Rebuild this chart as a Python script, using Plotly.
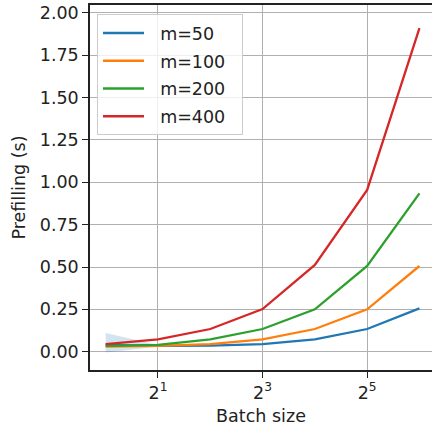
import plotly.graph_objects as go

batch = [1, 2, 4, 8, 16, 32, 64]
m50 = [0.040, 0.034, 0.036, 0.045, 0.073, 0.134, 0.256]
m100 = [0.030, 0.034, 0.045, 0.073, 0.134, 0.250, 0.506]
m200 = [0.035, 0.040, 0.073, 0.134, 0.250, 0.506, 0.935]
m400 = [0.045, 0.073, 0.134, 0.252, 0.512, 0.955, 1.910]
band_lo = [-0.005, 0.030, 0.034, 0.043, 0.071, 0.132, 0.254]
band_hi = [0.110, 0.040, 0.038, 0.047, 0.075, 0.136, 0.258]
names = ["m=50", "m=100", "m=200", "m=400"]
colors = ["#1f77b4", "#ff7f0e", "#2ca02c", "#d62728"]
xtickvals = [2, 8, 32]
xticktext = ["2<sup>1</sup>", "2<sup>3</sup>", "2<sup>5</sup>"]
ytickvals = [0, 0.25, 0.5, 0.75, 1.0, 1.25, 1.5, 1.75, 2.0]

fig = go.Figure()
fig.add_trace(go.Scatter(x=batch, y=band_hi, mode="lines", line=dict(width=0),
                         showlegend=False, hoverinfo="skip"))
fig.add_trace(go.Scatter(x=batch, y=band_lo, mode="lines", line=dict(width=0),
                         fill="tonexty", fillcolor="rgba(31,119,180,0.2)",
                         showlegend=False, hoverinfo="skip"))
pad = "\u00a0" * 2
for name, ys, c in zip(names, [m50, m100, m200, m400], colors):
    fig.add_trace(go.Scatter(x=batch, y=ys, mode="lines", name=pad + name + pad,
                             legendgroup=name, line=dict(color=c, width=2.3)))

font = dict(family="DejaVu Sans", size=17.5, color="#222")
title_font = dict(family="DejaVu Sans", size=17.5, color="#222")
fig.update_layout(
    width=432, height=429,
    margin=dict(l=90, r=0, t=5, b=59),
    plot_bgcolor="white", paper_bgcolor="white",
    font=font,
    showlegend=True,
    legend=dict(x=0.0205, y=0.975, xanchor="left", yanchor="top",
                bgcolor="rgba(255,255,255,0.8)", bordercolor="#cccccc", borderwidth=1,
                font=dict(family="DejaVu Sans", size=17.5, color="#222"),
                tracegroupgap=2, traceorder="grouped", itemwidth=41),
    xaxis=dict(type="log", range=[-0.3 * 0.30103, 6.24 * 0.30103],
               tickvals=xtickvals, ticktext=xticktext,
               showgrid=True, gridcolor="#b0b0b0", gridwidth=1,
               showline=True, linecolor="#222", linewidth=1.5, mirror=True,
               ticks="outside", ticklen=6, tickwidth=1.3, tickcolor="#222",
               title=dict(text="Batch size", standoff=8, font=title_font), zeroline=False),
    yaxis=dict(range=[-0.108, 2.047], tickvals=ytickvals, tickformat=".2f",
               showgrid=True, gridcolor="#b0b0b0", gridwidth=1,
               showline=True, linecolor="#222", linewidth=1.5, mirror=False,
               ticks="outside", ticklen=6, tickwidth=1.3, tickcolor="#222",
               title=dict(text="Prefilling (s)", standoff=10, font=title_font), zeroline=False),
)
fig.write_html("out.html")
